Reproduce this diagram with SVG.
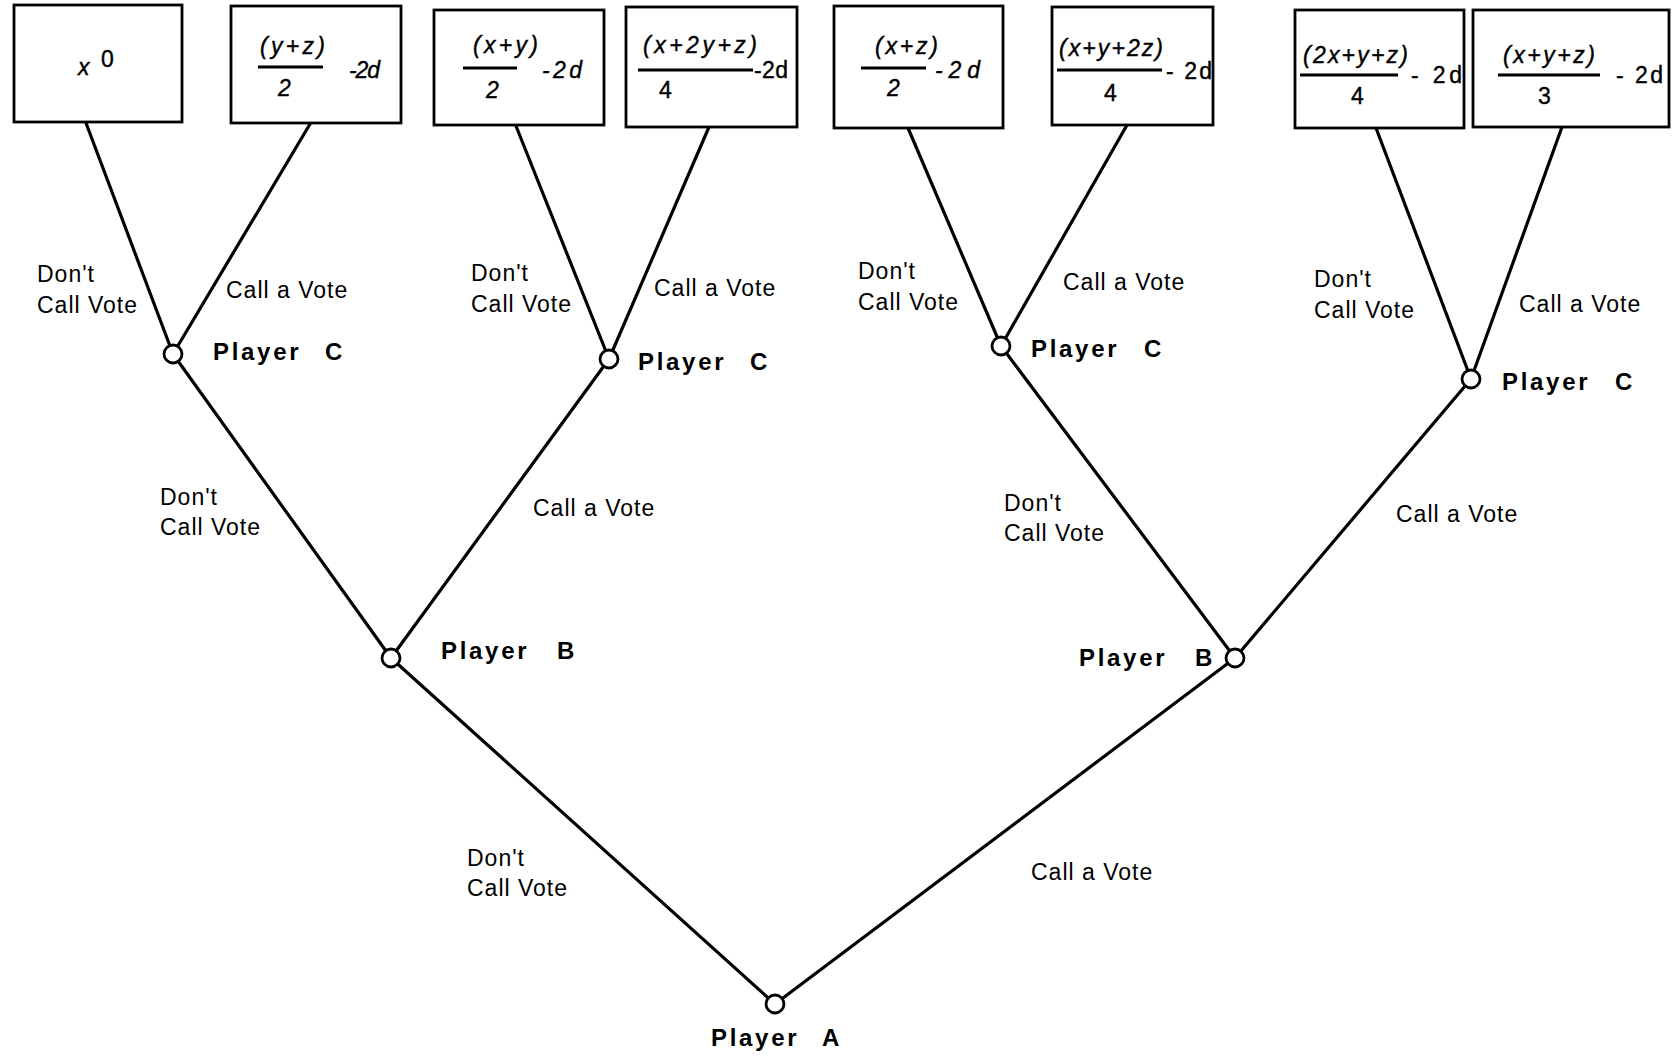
<svg xmlns="http://www.w3.org/2000/svg" width="1679" height="1061" viewBox="0 0 1679 1061">
<style>
.edge{stroke:#000;stroke-width:3.2;fill:none;stroke-linecap:round}
.box{fill:#fff;stroke:#000;stroke-width:2.8}
.node{fill:#fff;stroke:#000;stroke-width:2.8}
.lbl{font-family:"Liberation Sans",Arial,sans-serif;font-size:23px;letter-spacing:1px;fill:#000}
.cv{letter-spacing:1px}
.pl{font-family:"Liberation Sans",Arial,sans-serif;font-size:24px;font-weight:bold;letter-spacing:2.7px;fill:#000}
.m{font-family:"Liberation Sans",Arial,sans-serif;font-size:23px;font-style:italic;fill:#000;stroke:#000;stroke-width:0.4}
.u{font-family:"Liberation Sans",Arial,sans-serif;font-size:23px;fill:#000;stroke:#000;stroke-width:0.4}
.fr{stroke:#000;stroke-width:2.8}
</style>
<rect width="1679" height="1061" fill="#fff"/>
<g id="connectors">
<line class="edge" x1="86" y1="123" x2="173" y2="354"/>
<line class="edge" x1="310" y1="124" x2="173" y2="354"/>
<line class="edge" x1="516" y1="126" x2="609" y2="359"/>
<line class="edge" x1="709" y1="127" x2="609" y2="359"/>
<line class="edge" x1="908" y1="128" x2="1001" y2="346"/>
<line class="edge" x1="1127" y1="125" x2="1001" y2="346"/>
<line class="edge" x1="1376" y1="128" x2="1471" y2="379"/>
<line class="edge" x1="1562" y1="127" x2="1471" y2="379"/>
<line class="edge" x1="173" y1="354" x2="391" y2="658"/>
<line class="edge" x1="609" y1="359" x2="391" y2="658"/>
<line class="edge" x1="1001" y1="346" x2="1235" y2="658"/>
<line class="edge" x1="1471" y1="379" x2="1235" y2="658"/>
<line class="edge" x1="391" y1="658" x2="775" y2="1004"/>
<line class="edge" x1="1235" y1="658" x2="775" y2="1004"/>
</g>
<g id="edge-labels">
<text class="lbl" x="37" y="282">Don't</text>
<text class="lbl" x="37" y="313">Call Vote</text>
<text class="lbl cv" x="226" y="298">Call a Vote</text>
<text class="lbl" x="471" y="281">Don't</text>
<text class="lbl" x="471" y="312">Call Vote</text>
<text class="lbl cv" x="654" y="296">Call a Vote</text>
<text class="lbl" x="858" y="279">Don't</text>
<text class="lbl" x="858" y="310">Call Vote</text>
<text class="lbl cv" x="1063" y="290">Call a Vote</text>
<text class="lbl" x="1314" y="287">Don't</text>
<text class="lbl" x="1314" y="318">Call Vote</text>
<text class="lbl cv" x="1519" y="312">Call a Vote</text>
<text class="lbl" x="160" y="505">Don't</text>
<text class="lbl" x="160" y="535">Call Vote</text>
<text class="lbl cv" x="533" y="516">Call a Vote</text>
<text class="lbl" x="1004" y="511">Don't</text>
<text class="lbl" x="1004" y="541">Call Vote</text>
<text class="lbl cv" x="1396" y="522">Call a Vote</text>
<text class="lbl" x="467" y="866">Don't</text>
<text class="lbl" x="467" y="896">Call Vote</text>
<text class="lbl cv" x="1031" y="880">Call a Vote</text>
</g>
<g id="node-C1"><circle class="node" cx="173" cy="354" r="9"/><text class="pl" x="213" y="360">Player<tspan x="325">C</tspan></text></g>
<g id="node-C2"><circle class="node" cx="609" cy="359" r="9"/><text class="pl" x="638" y="370">Player<tspan x="750">C</tspan></text></g>
<g id="node-C3"><circle class="node" cx="1001" cy="346" r="9"/><text class="pl" x="1031" y="357">Player<tspan x="1144">C</tspan></text></g>
<g id="node-C4"><circle class="node" cx="1471" cy="379" r="9"/><text class="pl" x="1502" y="390">Player<tspan x="1615">C</tspan></text></g>
<g id="node-B1"><circle class="node" cx="391" cy="658" r="9"/><text class="pl" x="441" y="659">Player<tspan x="557">B</tspan></text></g>
<g id="node-B2"><circle class="node" cx="1235" cy="658" r="9"/><text class="pl" x="1079" y="666">Player<tspan x="1195">B</tspan></text></g>
<g id="node-A"><circle class="node" cx="775" cy="1004" r="9"/><text class="pl" x="711" y="1046">Player<tspan x="822">A</tspan></text></g>
<g id="payoff-1"><rect class="box" x="14" y="5" width="168" height="117"/><text class="m" x="78" y="75" font-size="24">x</text><text class="u" x="101" y="67" font-size="19">0</text></g>
<g id="payoff-2"><rect class="box" x="231" y="6" width="170" height="117"/><text class="m" x="260" y="54" textLength="65" lengthAdjust="spacing">(y+z)</text><line class="fr" x1="258" y1="67" x2="323" y2="67"/><text class="m" x="278" y="96">2</text><text class="m" x="349" y="78" textLength="31" lengthAdjust="spacing">-2d</text></g>
<g id="payoff-3"><rect class="box" x="434" y="10" width="170" height="115"/><text class="m" x="473" y="53" textLength="65" lengthAdjust="spacing">(x+y)</text><line class="fr" x1="463" y1="68" x2="517" y2="68"/><text class="m" x="486" y="98">2</text><text class="m" x="542" y="78" textLength="40" lengthAdjust="spacing">-2d</text></g>
<g id="payoff-4"><rect class="box" x="626" y="7" width="171" height="120"/><text class="m" x="643" y="53" textLength="114" lengthAdjust="spacing">(x+2y+z)</text><line class="fr" x1="638" y1="70" x2="753" y2="70"/><text class="u" x="659" y="98">4</text><text class="u" x="754" y="78" textLength="34" lengthAdjust="spacing">-2d</text></g>
<g id="payoff-5"><rect class="box" x="834" y="6" width="169" height="122"/><text class="m" x="875" y="54" textLength="63" lengthAdjust="spacing">(x+z)</text><line class="fr" x1="861" y1="68" x2="926" y2="68"/><text class="m" x="887" y="96">2</text><text class="m" x="935" y="78" textLength="45" lengthAdjust="spacing">-2d</text></g>
<g id="payoff-6"><rect class="box" x="1052" y="7" width="161" height="118"/><text class="m" x="1059" y="56" textLength="104" lengthAdjust="spacing">(x+y+2z)</text><line class="fr" x1="1057" y1="70" x2="1162" y2="70"/><text class="u" x="1104" y="101">4</text><text class="u" x="1166" y="79" textLength="46" lengthAdjust="spacing">- 2d</text></g>
<g id="payoff-7"><rect class="box" x="1295" y="10" width="169" height="118"/><text class="m" x="1303" y="63" textLength="105" lengthAdjust="spacing">(2x+y+z)</text><line class="fr" x1="1300" y1="75" x2="1398" y2="75"/><text class="u" x="1351" y="104">4</text><text class="u" x="1411" y="83" textLength="51" lengthAdjust="spacing">- 2d</text></g>
<g id="payoff-8"><rect class="box" x="1473" y="10" width="196" height="117"/><text class="m" x="1503" y="63" textLength="92" lengthAdjust="spacing">(x+y+z)</text><line class="fr" x1="1498" y1="75" x2="1600" y2="75"/><text class="u" x="1538" y="104">3</text><text class="u" x="1616" y="83" textLength="47" lengthAdjust="spacing">- 2d</text></g>
</svg>
